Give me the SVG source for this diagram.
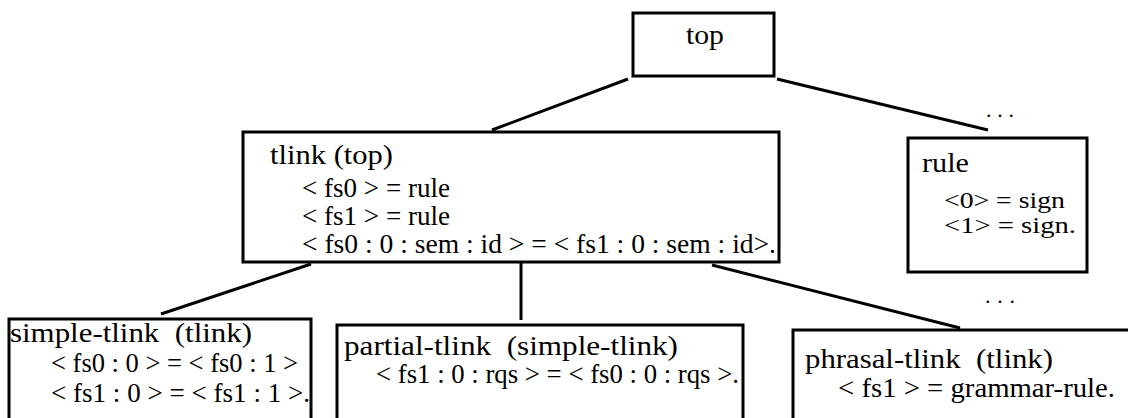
<svg xmlns="http://www.w3.org/2000/svg" width="1128" height="418" viewBox="0 0 1128 418">
  <style>
    .box { fill: #ffffff; stroke: #000000; stroke-width: 3; }
    .edge { stroke: #000000; stroke-width: 3; fill: none; }
    text { font-family: "Liberation Serif", "Times New Roman", serif; font-size: 27px; fill: #000000; white-space: pre; }
    .small { font-size: 23px; }
    .dots { font-size: 22px; }
  </style>
  <rect width="1128" height="418" fill="#ffffff"/>

  <!-- tree edges -->
  <g id="connectors">
    <line class="edge" x1="628" y1="79" x2="492" y2="130"/>
    <line class="edge" x1="777" y1="79" x2="988" y2="130"/>
    <line class="edge" x1="311" y1="264" x2="161" y2="314"/>
    <line class="edge" x1="521" y1="263" x2="521" y2="320"/>
    <line class="edge" x1="712" y1="265" x2="960" y2="328"/>
  </g>

  <g id="node-top">
    <rect class="box" x="633" y="13" width="141" height="63"/>
    <text x="686" y="44" textLength="38" lengthAdjust="spacingAndGlyphs">top</text>
  </g>

  <g id="node-tlink">
    <rect class="box" x="243" y="132" width="536" height="130"/>
    <text x="270" y="164" textLength="123" lengthAdjust="spacingAndGlyphs">tlink (top)</text>
    <text x="302" y="197" textLength="148" lengthAdjust="spacingAndGlyphs">&lt; fs0 &gt; = rule</text>
    <text x="302" y="225" textLength="148" lengthAdjust="spacingAndGlyphs">&lt; fs1 &gt; = rule</text>
    <text x="302" y="253" textLength="474" lengthAdjust="spacingAndGlyphs">&lt; fs0 : 0 : sem : id &gt; = &lt; fs1 : 0 : sem : id&gt;.</text>
  </g>

  <g id="node-rule">
    <text class="dots" x="986" y="117" textLength="28" lengthAdjust="spacing">. . .</text>
    <rect class="box" x="908" y="138" width="179" height="134"/>
    <text x="922" y="172" textLength="47" lengthAdjust="spacingAndGlyphs">rule</text>
    <text class="small" x="944" y="208" textLength="121" lengthAdjust="spacingAndGlyphs">&lt;0&gt; = sign</text>
    <text class="small" x="944" y="233" textLength="132" lengthAdjust="spacingAndGlyphs">&lt;1&gt; = sign.</text>
    <text class="dots" x="985" y="303" textLength="30" lengthAdjust="spacing">. . .</text>
  </g>

  <g id="node-simple-tlink">
    <rect class="box" x="9" y="319" width="302" height="110"/>
    <text x="10" y="342" textLength="242" lengthAdjust="spacingAndGlyphs">simple-tlink  (tlink)</text>
    <text x="51" y="372" textLength="247" lengthAdjust="spacingAndGlyphs">&lt; fs0 : 0 &gt; = &lt; fs0 : 1 &gt;</text>
    <text x="51" y="402" textLength="259" lengthAdjust="spacingAndGlyphs">&lt; fs1 : 0 &gt; = &lt; fs1 : 1 &gt;.</text>
  </g>

  <g id="node-partial-tlink">
    <rect class="box" x="337" y="325" width="406" height="110"/>
    <text x="344" y="355" textLength="334" lengthAdjust="spacingAndGlyphs">partial-tlink  (simple-tlink)</text>
    <text x="376" y="383" textLength="363" lengthAdjust="spacingAndGlyphs">&lt; fs1 : 0 : rqs &gt; = &lt; fs0 : 0 : rqs &gt;.</text>
  </g>

  <g id="node-phrasal-tlink">
    <rect class="box" x="793" y="330" width="345" height="110"/>
    <text x="805" y="368" textLength="248" lengthAdjust="spacingAndGlyphs">phrasal-tlink  (tlink)</text>
    <text x="838" y="397" textLength="277" lengthAdjust="spacingAndGlyphs">&lt; fs1 &gt; = grammar-rule.</text>
  </g>
</svg>
